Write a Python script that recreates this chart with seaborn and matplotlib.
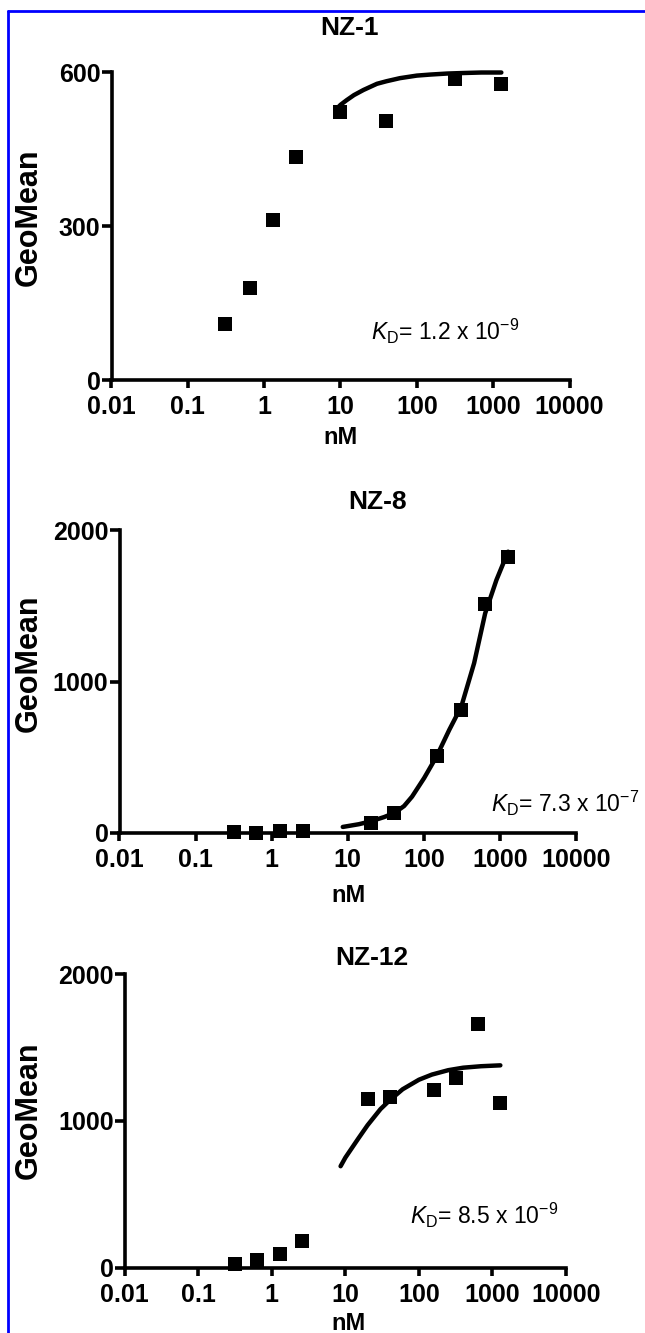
"""
Binding curves (GeoMean vs nM) for NZ-1, NZ-8, NZ-12
"""

import matplotlib
matplotlib.use("Agg")
import matplotlib.pyplot as plt
from matplotlib.lines import Line2D
from matplotlib.ticker import NullLocator
import pandas as pd
import seaborn as sns

# ---- data ----
nz1_conc = [0.31, 0.65, 1.3, 2.6, 10, 40, 320, 1280]
nz1_geomean = [110, 179, 311, 434, 522, 505, 587, 576]
nz1_fit_conc = [8.6, 10, 12, 15, 20, 30, 40, 60, 100, 150, 250, 400, 700, 1280]
nz1_fit_geomean = [526, 536, 545, 555, 565, 577, 582, 588, 593, 595, 597, 598, 599, 599]

nz8_conc = [0.32, 0.63, 1.29, 2.57, 20, 41, 147, 311, 640, 1276]
nz8_geomean = [5, 3, 15, 15, 66, 132, 505, 813, 1510, 1824]
nz8_fit_conc = [8.6, 14, 20, 30, 41, 55, 70, 101, 147, 216, 311, 458, 640, 900, 1280]
nz8_fit_geomean = [40, 58, 77, 105, 132, 178, 240, 363, 505, 681, 835, 1121, 1450, 1670, 1857]

nz12_conc = [0.32, 0.62, 1.29, 2.55, 20, 40, 159, 318, 628, 1283]
nz12_geomean = [27, 50, 96, 180, 1151, 1160, 1210, 1292, 1660, 1124]
nz12_fit_conc = [8.6, 10, 15, 20, 30, 40, 60, 100, 150, 250, 400, 700, 1280]
nz12_fit_geomean = [691, 750, 880, 970, 1080, 1140, 1215, 1280, 1315, 1345, 1362, 1372, 1378]

x_ticks = [0.01, 0.1, 1, 10, 100, 1000, 10000]
x_ticklabels = ["0.01", "0.1", "1", "10", "100", "1000", "10000"]
kd_labels = [r"$K_\mathrm{D}$= 1.2 x 10$^{-9}$",
             r"$K_\mathrm{D}$= 7.3 x 10$^{-7}$",
             r"$K_\mathrm{D}$= 8.5 x 10$^{-9}$"]
titles = ["NZ-1", "NZ-8", "NZ-12"]

# ---- style ----
sns.set_theme(style="ticks")
plt.rcParams["font.family"] = ["Liberation Sans", "DejaVu Sans"]
plt.rcParams["mathtext.fontset"] = "custom"
plt.rcParams["mathtext.rm"] = "Liberation Sans"
plt.rcParams["mathtext.it"] = "Liberation Sans:italic"
plt.rcParams["axes.edgecolor"] = "black"
plt.rcParams["text.color"] = "black"

W, H = 645, 1333
fig = plt.figure(figsize=(W / 100, H / 100), dpi=100)
fig.patch.set_facecolor("white")


def px_rect(left, right, top, bottom):
    return [left / W, 1 - bottom / H, (right - left) / W, (bottom - top) / H]


panels = [
    dict(rect=px_rect(111.5, 569.5, 72, 380), conc=nz1_conc, vals=nz1_geomean,
         fit_x=nz1_fit_conc, fit_y=nz1_fit_geomean, ymax=600, yticks=[0, 300, 600],
         title_xy=(350, 28), nm_xy=(340, 438), geo_y=217, kd_xy=(371, 331)),
    dict(rect=px_rect(119.5, 576, 530, 833), conc=nz8_conc, vals=nz8_geomean,
         fit_x=nz8_fit_conc, fit_y=nz8_fit_geomean, ymax=2000, yticks=[0, 1000, 2000],
         title_xy=(378, 502), nm_xy=(348, 895), geo_y=663, kd_xy=(491, 803)),
    dict(rect=px_rect(124.8, 566, 974, 1267.7), conc=nz12_conc, vals=nz12_geomean,
         fit_x=nz12_fit_conc, fit_y=nz12_fit_geomean, ymax=2000, yticks=[0, 1000, 2000],
         title_xy=(372, 958), nm_xy=(348, 1324), geo_y=1110, kd_xy=(410, 1215)),
]

for i, p in enumerate(panels):
    ax = fig.add_axes(p["rect"])
    ax.set_facecolor("none")

    pts = pd.DataFrame({"nM": p["conc"], "GeoMean": p["vals"]})
    fit = pd.DataFrame({"nM": p["fit_x"], "GeoMean": p["fit_y"]})

    sns.lineplot(data=fit, x="nM", y="GeoMean", color="black", linewidth=3.2,
                 estimator=None, sort=True, ax=ax, clip_on=False, zorder=2)
    sns.scatterplot(data=pts, x="nM", y="GeoMean", marker="s", s=110, color="black",
                    edgecolor="black", linewidth=0, ax=ax, clip_on=False, zorder=3)

    ax.set_xscale("log")
    ax.set_xlim(0.01, 10000)
    ax.set_ylim(0, p["ymax"])
    ax.set_xticks(x_ticks)
    ax.set_xticklabels(x_ticklabels)
    ax.xaxis.set_minor_locator(NullLocator())
    ax.set_yticks(p["yticks"])
    ax.set_xlabel("")
    ax.set_ylabel("")

    sns.despine(ax=ax)
    for side in ["left", "bottom"]:
        ax.spines[side].set_linewidth(2.6)
        ax.spines[side].set_color("black")
        ax.spines[side].set_capstyle("projecting")
    ax.tick_params(axis="both", direction="out", width=2.6, color="black",
                   labelsize=18, labelcolor="black")
    ax.tick_params(axis="x", length=6, pad=5)
    ax.tick_params(axis="y", length=7, pad=1)
    for lbl in ax.get_xticklabels() + ax.get_yticklabels():
        lbl.set_fontweight("bold")

    tx, ty = p["title_xy"]
    fig.text(tx / W, 1 - ty / H, titles[i], ha="center", va="center",
             fontsize=19, fontweight="bold")
    nx, ny = p["nm_xy"]
    fig.text(nx / W, 1 - ny / H, "nM", ha="center", va="center",
             fontsize=17, fontweight="bold")
    fig.text(29 / W, 1 - p["geo_y"] / H, "GeoMean", ha="center", va="center",
             rotation=90, fontsize=22, fontweight="bold")
    kx, ky = p["kd_xy"]
    fig.text(kx / W, 1 - ky / H, kd_labels[i], ha="left", va="center", fontsize=16.5)

# blue frame (left and top edges)
fig.add_artist(Line2D([8 / W, 8 / W], [0, 1 - 10.5 / H], color="#0000ff",
                      linewidth=2, transform=fig.transFigure))
fig.add_artist(Line2D([8 / W, 1], [1 - 10.5 / H, 1 - 10.5 / H], color="#0000ff",
                      linewidth=2, transform=fig.transFigure))

fig.savefig("out.png", dpi=100)
